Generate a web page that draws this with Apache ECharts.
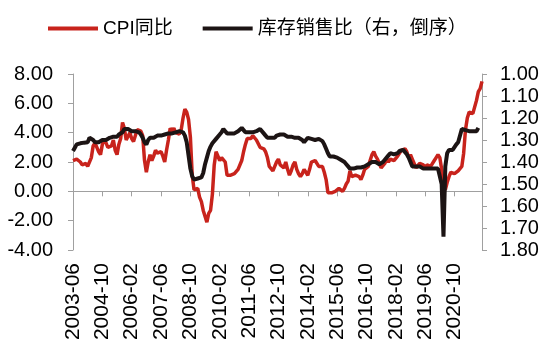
<!DOCTYPE html>
<html>
<head>
<meta charset="utf-8">
<script src="https://cdn.jsdelivr.net/npm/echarts@6/dist/echarts.min.js"></script>
<style>
html,body{margin:0;padding:0;background:#fff;}
#c{width:550px;height:357px;}
</style>
</head>
<body>
<div id="c"></div>
<script>
// Monthly categories 2003-06 .. 2022-01
const startYear = 2003, startMonth = 6, nMonths = 224;
const categories = [];
for (let i = 0; i < nMonths; i++) {
  const m = startMonth - 1 + i;
  const y = startYear + Math.floor(m / 12);
  const mm = (m % 12) + 1;
  categories.push(y + '-' + (mm < 10 ? '0' + mm : '' + mm));
}

const seriesNames = ['CPI同比', '库存销售比（右，倒序）'];

// CPI YoY (%), 2003-06 .. 2022-01
const cpi = [
  2.1, 2.1, 2.2, 2.3, 2.0, 1.8, 1.9,
  1.9, 1.7, 1.7, 2.3, 3.1, 3.3, 3.0, 2.7, 2.5, 3.2, 3.5, 3.3,
  3.0, 3.0, 3.1, 3.5, 2.8, 2.5, 3.2, 3.6, 4.7, 4.3, 3.5, 3.4,
  4.0, 3.6, 3.4, 3.5, 4.2, 4.3, 4.1, 3.8, 2.1, 1.3, 2.0, 2.5,
  2.1, 2.4, 2.8, 2.6, 2.7, 2.7, 2.4, 2.0, 2.8, 3.5, 4.3, 4.1,
  4.3, 4.0, 4.0, 3.9, 4.2, 5.0, 5.6, 5.4, 4.9, 3.7, 1.1, 0.1,
  0.0, 0.2, -0.4, -0.7, -1.3, -1.4, -2.1, -1.5, -1.3, -0.2, 1.8, 2.7,
  2.6, 2.1, 2.3, 2.2, 2.0, 1.1, 1.2, 1.1, 1.1, 1.2, 1.1, 1.5,
  1.6, 2.1, 2.7, 3.2, 3.6, 3.6, 3.6, 3.8, 3.9, 3.5, 3.4, 3.0,
  2.9, 2.9, 2.7, 2.3, 1.7, 1.7, 1.4, 1.7, 2.0, 2.2, 1.8, 1.7,
  1.6, 2.0, 1.5, 1.1, 1.4, 1.8, 2.0, 1.5, 1.2, 1.0, 1.2, 1.5,
  1.6, 1.1, 1.5, 2.0, 2.1, 2.1, 2.0, 1.7, 1.7, 1.7, 1.3, 0.8,
  -0.1, 0.0, -0.1, -0.2, 0.0, 0.1, 0.2, 0.2, 0.0, 0.2, 0.5, 0.7,
  1.4, 1.0, 0.9, 1.1, 1.0, 1.0, 0.8, 1.1, 1.5, 1.6, 1.7, 2.1,
  2.5, 2.7, 2.4, 2.2, 1.9, 1.6, 1.7, 1.9, 2.2, 2.0, 2.2, 2.1,
  2.1, 2.2, 2.4, 2.5, 2.8, 2.9, 2.9, 2.7, 2.3, 2.5, 2.2, 1.9,
  1.6, 1.5, 1.9, 2.0, 1.8, 1.6, 1.8, 1.7, 1.7, 1.8, 2.1, 2.3,
  2.5, 2.3, 1.5, 0.3, 0.1, 0.6, 1.0, 1.3, 1.4, 1.2, 1.2, 1.4,
  1.4, 1.7, 2.6, 4.2, 5.0, 5.4, 5.4, 5.3, 5.4, 6.2, 6.8, 7.0,
  7.5
];

// Inventory / sales ratio (right axis, inverted), 2003-06 .. 2021-11
const isRatio = [
  1.35, 1.335, 1.32, 1.32, 1.315, 1.318, 1.312,
  1.315, 1.31, 1.29, 1.285, 1.30, 1.31, 1.305, 1.31, 1.305, 1.30, 1.295, 1.30,
  1.295, 1.29, 1.29, 1.285, 1.28, 1.285, 1.275, 1.27, 1.265, 1.25, 1.255, 1.25,
  1.255, 1.26, 1.255, 1.26, 1.26, 1.265, 1.275, 1.29, 1.31, 1.32, 1.30, 1.29,
  1.285, 1.29, 1.285, 1.28, 1.285, 1.28, 1.28, 1.275, 1.28, 1.27, 1.275, 1.27,
  1.27, 1.265, 1.27, 1.26, 1.255, 1.265, 1.28, 1.31, 1.37, 1.43, 1.465, 1.48,
  1.485, 1.475, 1.48, 1.47, 1.45, 1.41, 1.38, 1.35, 1.33, 1.315, 1.31, 1.295,
  1.29, 1.275, 1.265, 1.25, 1.26, 1.27, 1.275, 1.27, 1.265, 1.27, 1.265, 1.26,
  1.255, 1.245, 1.255, 1.265, 1.27, 1.265, 1.27, 1.265, 1.26, 1.26, 1.255, 1.25,
  1.255, 1.27, 1.28, 1.29, 1.295, 1.29, 1.285, 1.29, 1.28, 1.28, 1.275, 1.28,
  1.275, 1.28, 1.285, 1.28, 1.285, 1.29, 1.29, 1.285, 1.29, 1.295, 1.30, 1.31,
  1.30, 1.29, 1.29, 1.295, 1.295, 1.30, 1.30, 1.295, 1.30, 1.305, 1.32, 1.34,
  1.36, 1.375, 1.38, 1.375, 1.38, 1.38, 1.385, 1.39, 1.395, 1.40, 1.41, 1.42,
  1.43, 1.435, 1.43, 1.43, 1.425, 1.43, 1.425, 1.42, 1.42, 1.415, 1.41, 1.41,
  1.40, 1.405, 1.40, 1.405, 1.41, 1.415, 1.40, 1.39, 1.38, 1.37, 1.36, 1.355,
  1.365, 1.37, 1.36, 1.35, 1.345, 1.345, 1.35, 1.365, 1.38, 1.40, 1.42, 1.425,
  1.42, 1.415, 1.42, 1.425, 1.43, 1.43, 1.43, 1.43, 1.43, 1.43, 1.43, 1.43,
  1.43, 1.43, 1.50, 1.74, 1.42, 1.36, 1.345, 1.345, 1.345, 1.345, 1.32, 1.31,
  1.305, 1.25, 1.25, 1.255, 1.25, 1.26, 1.255, 1.26, 1.255, 1.26, 1.245,
  null, null
];

const leftTicks = { min: -4, max: 8, interval: 2 };
const rightTicks = { min: 1.0, max: 1.8, interval: 0.1 };

const FONT = "'Liberation Sans', Arial, 'Noto Sans CJK SC', sans-serif";
const AXIS_GRAY = '#a0a0a0';

const chart = echarts.init(document.getElementById('c'), null, { renderer: 'canvas' });
chart.setOption({
  animation: false,
  backgroundColor: '#ffffff',
  textStyle: { fontFamily: FONT },
  legend: {
    top: 14,
    left: 43,
    icon: 'rect',
    itemWidth: 50,
    itemHeight: 4,
    itemGap: 30,
    textStyle: { fontSize: 19, color: '#000', fontFamily: FONT },
    data: seriesNames
  },
  grid: { left: 73, right: 68, top: 74, bottom: 107, containLabel: false },
  xAxis: [
    {
      type: 'category',
      data: categories,
      boundaryGap: false,
      axisLine: { show: true, onZero: true, lineStyle: { color: AXIS_GRAY, width: 1 } },
      axisTick: { show: true, interval: 15, length: 5, inside: false, lineStyle: { color: AXIS_GRAY } },
      axisLabel: { show: false },
      splitLine: { show: false }
    },
    {
      type: 'category',
      data: categories,
      boundaryGap: false,
      position: 'bottom',
      axisLine: { show: false, onZero: false },
      axisTick: { show: false },
      axisLabel: { interval: 15, rotate: 90, fontSize: 21, margin: 13, color: '#000', fontFamily: FONT },
      splitLine: { show: false }
    }
  ],
  yAxis: [
    {
      type: 'value',
      position: 'left',
      min: leftTicks.min, max: leftTicks.max, interval: leftTicks.interval,
      axisLine: { show: true, lineStyle: { color: AXIS_GRAY } },
      axisTick: { show: true, length: 5, lineStyle: { color: AXIS_GRAY } },
      axisLabel: { fontSize: 20, color: '#000', margin: 20, fontFamily: FONT, formatter: v => v.toFixed(2) },
      splitLine: { show: false }
    },
    {
      type: 'value',
      position: 'right',
      inverse: true,
      min: rightTicks.min, max: rightTicks.max, interval: rightTicks.interval,
      axisLine: { show: true, lineStyle: { color: AXIS_GRAY } },
      axisTick: { show: true, length: 5, lineStyle: { color: AXIS_GRAY } },
      axisLabel: { fontSize: 20, color: '#000', margin: 18, fontFamily: FONT, formatter: v => v.toFixed(2) },
      splitLine: { show: false }
    }
  ],
  series: [
    {
      name: seriesNames[0],
      type: 'line',
      xAxisIndex: 0,
      yAxisIndex: 0,
      data: cpi,
      symbol: 'none',
      color: '#c8231c',
      lineStyle: { color: '#c8231c', width: 3.5 },
      z: 2
    },
    {
      name: seriesNames[1],
      type: 'line',
      xAxisIndex: 0,
      yAxisIndex: 1,
      data: isRatio,
      symbol: 'none',
      color: '#1c1414',
      lineStyle: { color: '#1c1414', width: 4 },
      z: 3
    }
  ]
});
</script>
</body>
</html>
